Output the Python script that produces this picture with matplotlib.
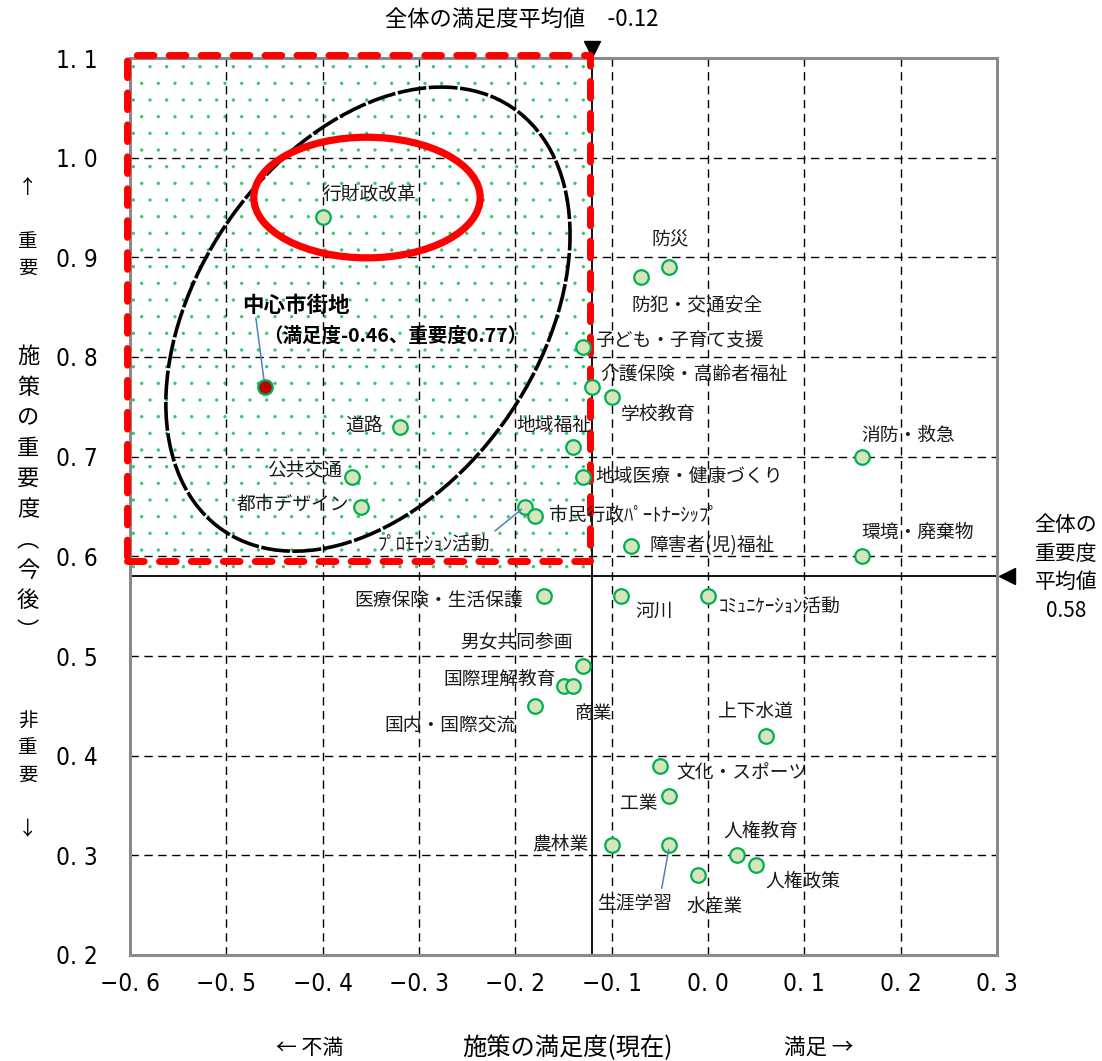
"""施策の満足度・重要度 散布図(中心市街地を強調)。"""
import matplotlib
matplotlib.use("Agg")
import matplotlib.pyplot as plt  # noqa: E402
import matplotlib.transforms as mtransforms  # noqa: E402
from matplotlib import font_manager  # noqa: E402
from matplotlib.patches import Ellipse, Rectangle  # noqa: E402

plt.rcParams['font.family'] = ['Noto Sans CJK JP', 'DejaVu Sans']
plt.rcParams['hatch.linewidth'] = 0.0

# 施策ごとの満足度(現在)と重要度(今後)
ITEMS = [
    "行財政改革", "道路", "公共交通", "都市デザイン",
    "防災", "防犯・交通安全", "子ども・子育て支援", "介護保険・高齢者福祉",
    "学校教育", "地域福祉", "地域医療・健康づくり", "ﾌﾟﾛﾓｰｼｮﾝ活動",
    "市民行政ﾊﾟｰﾄﾅｰｼｯﾌﾟ", "障害者(児)福祉", "消防・救急", "環境・廃棄物",
    "医療保険・生活保護", "河川", "ｺﾐｭﾆｹｰｼｮﾝ活動", "男女共同参画",
    "国際理解教育", "商業", "国内・国際交流", "上下水道",
    "文化・スポーツ", "工業", "農林業", "生涯学習",
    "人権教育", "人権政策", "水産業",
]
SATISFACTION = [
    -0.40, -0.32, -0.37, -0.36,
    -0.04, -0.07, -0.13, -0.12,
    -0.10, -0.14, -0.13, -0.19,
    -0.18, -0.08, 0.16, 0.16,
    -0.17, -0.09, 0.00, -0.13,
    -0.15, -0.14, -0.18, 0.06,
    -0.05, -0.04, -0.10, -0.04,
    0.03, 0.05, -0.01,
]
IMPORTANCE = [
    0.94, 0.73, 0.68, 0.65,
    0.89, 0.88, 0.81, 0.77,
    0.76, 0.71, 0.68, 0.65,
    0.64, 0.61, 0.70, 0.60,
    0.56, 0.56, 0.56, 0.49,
    0.47, 0.47, 0.45, 0.42,
    0.39, 0.36, 0.31, 0.31,
    0.30, 0.29, 0.28,
]

FOCUS_NAME = "中心市街地"
FOCUS_SAT = -0.46
FOCUS_IMP = 0.77

AVG_SAT = -0.12
AVG_IMP = 0.58

X_TICKS = [-0.6, -0.5, -0.4, -0.3, -0.2, -0.1, 0.0, 0.1, 0.2, 0.3]
Y_TICKS = [0.2, 0.3, 0.4, 0.5, 0.6, 0.7, 0.8, 0.9, 1.0, 1.1]

# ラベル位置(点からのずれ, ピクセル)と揃え
LABEL_LAYOUT = {
    "行財政改革": (0, 24, "left"),
    "道路": (-17, 0, "right"),
    "公共交通": (-10, 6, "right"),
    "都市デザイン": (-12, 2, "right"),
    "防災": (1, 27, "center"),
    "防犯・交通安全": (-9, -27, "left"),
    "子ども・子育て支援": (12, 6, "left"),
    "介護保険・高齢者福祉": (8, 13, "left"),
    "学校教育": (9, -18, "left"),
    "地域福祉": (18, 21, "right"),
    "地域医療・健康づくり": (13, 0, "left"),
    "ﾌﾟﾛﾓｰｼｮﾝ活動": (-35, -39, "right"),
    "市民行政ﾊﾟｰﾄﾅｰｼｯﾌﾟ": (14, 1, "left"),
    "障害者(児)福祉": (19, 1, "left"),
    "消防・救急": (-1, 21, "left"),
    "環境・廃棄物": (-1, 24, "left"),
    "医療保険・生活保護": (-21, -5, "right"),
    "河川": (14, -15, "left"),
    "ｺﾐｭﾆｹｰｼｮﾝ活動": (11, -10, "left"),
    "男女共同参画": (-10, 24, "right"),
    "国際理解教育": (-8, 6, "right"),
    "商業": (20, -28, "center"),
    "国内・国際交流": (-19, -20, "right"),
    "上下水道": (-10, 24, "center"),
    "文化・スポーツ": (16, -7, "left"),
    "工業": (-12, -8, "right"),
    "農林業": (-23, 2, "right"),
    "生涯学習": (-35, -59, "center"),
    "人権教育": (24, 24, "center"),
    "人権政策": (9, -16, "left"),
    "水産業": (16, -32, "center"),
}
LEADER_ITEMS = {"ﾌﾟﾛﾓｰｼｮﾝ活動": (1.0, 1.0), "生涯学習": (0.85, 1.0)}

# 目盛り数字は細めの字体があればそれを使う
_condensed = any(f.name == 'DejaVu Sans' and f.stretch == 'condensed'
                 for f in font_manager.fontManager.ttflist)
if _condensed:
    tick_font = dict(family='DejaVu Sans', stretch='condensed', size=17.5)
else:
    tick_font = dict(family='Liberation Sans', size=16)

W, H, DPI = 1102, 1061, 100
fig = plt.figure(figsize=(W / DPI, H / DPI), dpi=DPI)
ax = fig.add_axes([130 / W, 106 / H, 867 / W, 897 / H])
ax.set_xlim(X_TICKS[0], X_TICKS[-1])
ax.set_ylim(Y_TICKS[0], Y_TICKS[-1])

ax.set_xticks(X_TICKS)
ax.set_xticklabels([f"{v:.1f}".replace("-", "\u2212").replace(".", ". ")
                    for v in X_TICKS], **tick_font)
ax.set_yticks(Y_TICKS)
ax.set_yticklabels([f"{v:.1f}".replace(".", ". ") for v in Y_TICKS], **tick_font)
ax.tick_params(length=0)
ax.tick_params(axis='x', pad=12)
ax.tick_params(axis='y', pad=23)

ax.set_axisbelow(True)
ax.grid(True, color='black', lw=1.0, ls=(0, (6, 4)))
for sp in ax.spines.values():
    sp.set_color('#8a8a8a')
    sp.set_linewidth(2.2)

# 重要度高・満足度低の領域(ドット塗り)
ax.add_patch(Rectangle((X_TICKS[0], AVG_IMP), AVG_SAT - X_TICKS[0],
                       Y_TICKS[-1] - AVG_IMP, facecolor='white',
                       edgecolor='#2ecc71', lw=0, hatch='.', zorder=0.2))

# 平均値の線
ax.axvline(AVG_SAT, color='black', lw=1.3, zorder=1.5)
ax.axhline(AVG_IMP, color='black', lw=1.3, zorder=1.5)
ax.plot([AVG_SAT], [Y_TICKS[-1]], marker='v', ms=11, color='black', clip_on=False,
        transform=mtransforms.offset_copy(ax.transData, fig, y=9, units='dots'))
ax.plot([X_TICKS[-1]], [AVG_IMP], marker='<', ms=11, color='black', clip_on=False,
        transform=mtransforms.offset_copy(ax.transData, fig, x=10, units='dots'))

# 赤の破線枠
ax.add_patch(Rectangle((-0.603, 0.595), AVG_SAT - 0.003 + 0.603, 1.103 - 0.595,
                       fill=False, edgecolor='#ff0000', lw=5,
                       ls=(0, (2.4, 2.2)), capstyle='round', joinstyle='round',
                       clip_on=False, zorder=3))

# 楕円
ax.add_patch(Ellipse((-0.353, 0.838), 0.52, 0.35, angle=53, fill=False,
                     edgecolor='black', lw=2.6, ls=(0, (8, 0.7)), zorder=2.5))
ax.add_patch(Ellipse((-0.354, 0.960), 0.235, 0.121, fill=False,
                     edgecolor='#ff0000', lw=5.2, zorder=2.6))

ax.scatter(SATISFACTION, IMPORTANCE, s=110, facecolor='#d7e4bd',
           edgecolor='#00b050', linewidth=1.6, zorder=4)
ax.scatter([FOCUS_SAT], [FOCUS_IMP], s=110, facecolor='#c00000',
           edgecolor='#00b050', linewidth=1.6, zorder=4)

label_font = dict(size=13.5, color='#1a1a1a')
for name, x, y in zip(ITEMS, SATISFACTION, IMPORTANCE):
    dx, dy, ha = LABEL_LAYOUT[name]
    kw = {}
    if name in LEADER_ITEMS:
        kw['arrowprops'] = dict(arrowstyle='-', color='#4f81bd', lw=1.1,
                                relpos=LEADER_ITEMS[name], shrinkA=2, shrinkB=3)
    ax.annotate(name, (x, y), xytext=(dx, dy), textcoords='offset pixels',
                ha=ha, va='center', zorder=5, **label_font, **kw)

# 中心市街地の注記
ax.annotate('', (FOCUS_SAT, FOCUS_IMP), xytext=(-9, 69), textcoords='offset pixels',
            arrowprops=dict(arrowstyle='-', color='#4f81bd', lw=1.1,
                            shrinkA=0, shrinkB=5), zorder=5)
ax.annotate(FOCUS_NAME, (FOCUS_SAT, FOCUS_IMP), xytext=(-23, 81),
            textcoords='offset pixels', ha='left', va='center',
            size=15.5, weight='bold', zorder=5)
ax.annotate(f"（満足度{FOCUS_SAT:.2f}、重要度{FOCUS_IMP:.2f}）", (FOCUS_SAT, FOCUS_IMP),
            xytext=(-2, 51), textcoords='offset pixels', ha='left', va='center',
            size=14, weight='bold', zorder=5)

# 平均値の見出し
fig.text(522 / W, 1 - 20 / H, f"全体の満足度平均値　{AVG_SAT:.2f}",
         ha='center', va='center', size=16)
fig.text(1066 / W, 1 - 568 / H, f"全体の\n重要度\n平均値\n{AVG_IMP:.2f}",
         ha='center', va='center', size=15, linespacing=1.4)

# 軸の見出し
fig.text(310 / W, 1 - 1048 / H, "← 不満", ha='center', va='center', size=15)
fig.text(567 / W, 1 - 1048 / H, "施策の満足度(現在)", ha='center', va='center', size=17.5)
fig.text(819 / W, 1 - 1048 / H, "満足 →", ha='center', va='center', size=15.5)

fig.text(28 / W, 1 - 228 / H, "↑\n\n重\n要", ha='center', va='center',
         size=14, linespacing=1.38)
fig.text(28 / W, 1 - 494 / H, "\n".join("施策の重要度︵今後︶"), ha='center',
         va='center', size=16, linespacing=1.42)
fig.text(28 / W, 1 - 775 / H, "非\n重\n要\n\n↓", ha='center', va='center',
         size=14, linespacing=1.38)

fig.savefig("out.png", dpi=DPI)
